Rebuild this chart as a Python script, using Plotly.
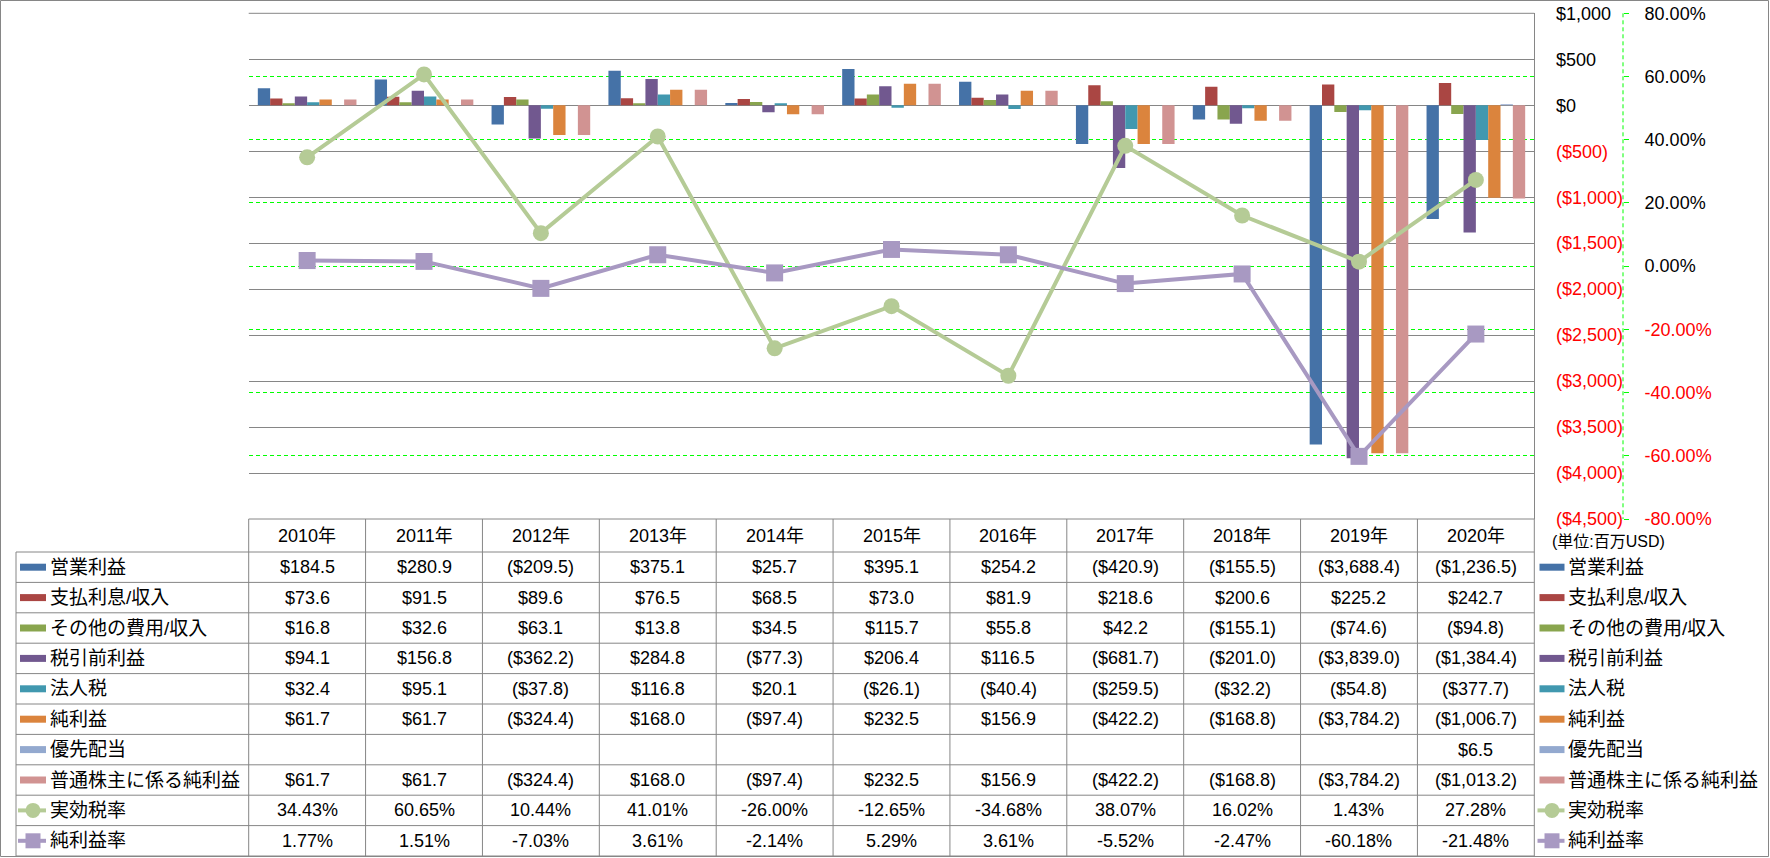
import plotly.graph_objects as go

# ---------------- data ----------------
years = ["2010年", "2011年", "2012年", "2013年", "2014年", "2015年",
         "2016年", "2017年", "2018年", "2019年", "2020年"]

op_income = [184.5, 280.9, -209.5, 375.1, 25.7, 395.1, 254.2, -420.9, -155.5, -3688.4, -1236.5]
interest = [73.6, 91.5, 89.6, 76.5, 68.5, 73.0, 81.9, 218.6, 200.6, 225.2, 242.7]
other = [16.8, 32.6, 63.1, 13.8, 34.5, 115.7, 55.8, 42.2, -155.1, -74.6, -94.8]
pretax = [94.1, 156.8, -362.2, 284.8, -77.3, 206.4, 116.5, -681.7, -201.0, -3839.0, -1384.4]
income_tax = [32.4, 95.1, -37.8, 116.8, 20.1, -26.1, -40.4, -259.5, -32.2, -54.8, -377.7]
net_income = [61.7, 61.7, -324.4, 168.0, -97.4, 232.5, 156.9, -422.2, -168.8, -3784.2, -1006.7]
pref_div = [None, None, None, None, None, None, None, None, None, None, 6.5]
common_net = [61.7, 61.7, -324.4, 168.0, -97.4, 232.5, 156.9, -422.2, -168.8, -3784.2, -1013.2]
eff_tax_rate = [34.43, 60.65, 10.44, 41.01, -26.00, -12.65, -34.68, 38.07, 16.02, 1.43, 27.28]
net_margin = [1.77, 1.51, -7.03, 3.61, -2.14, 5.29, 3.61, -5.52, -2.47, -60.18, -21.48]

bar_names = ["営業利益", "支払利息/収入", "その他の費用/収入", "税引前利益",
             "法人税", "純利益", "優先配当", "普通株主に係る純利益"]
bar_values = [op_income, interest, other, pretax, income_tax, net_income, pref_div, common_net]
line_names = ["実効税率", "純利益率"]
line_values = [eff_tax_rate, net_margin]

usd_ticks = list(range(-4500, 1001, 500))
pct_ticks = [-0.8, -0.6, -0.4, -0.2, 0.0, 0.2, 0.4, 0.6, 0.8]

# ---------------- styles ----------------
bar_colors = ["#4572A7", "#AA4643", "#89A54E", "#71588F", "#4198AF", "#DB843D", "#93A9CF", "#D19392"]
line_colors = ["#B5CB96", "#A899C2"]
line_symbols = ["circle", "square"]
GRID = "#868686"
LIME = "#00FF00"
FONT = "Liberation Sans, Noto Sans CJK JP, sans-serif"

W, H = 1770, 858
PLOT_L, PLOT_R = 248.7, 1534.3
PLOT_T, PLOT_B = 13.3, 519.0
SEC_X = 1623.0
HEADER_B = 552.0
ROW_H = 30.4
LABEL_L = 16.0


def px(x):
    return x / W


def py(y):
    return 1 - y / H


def fmt_usd(v):
    if v is None:
        return ""
    s = "${:,.1f}".format(abs(v))
    return "(" + s + ")" if v < 0 else s


def fmt_usd_tick(v):
    s = "${:,}".format(abs(v))
    return "<span style='color:#FF0000'>(" + s + ")</span>" if v < 0 else s


def fmt_pct_tick(v):
    s = "{:.2f}%".format(v * 100)
    return "<span style='color:#FF0000'>" + s + "</span>" if v < 0 else s


fig = go.Figure()

for name, vals, col in zip(bar_names, bar_values, bar_colors):
    fig.add_trace(go.Bar(x=years, y=vals, name=name, marker=dict(color=col, line=dict(width=0)),
                         yaxis="y", showlegend=False))

for name, vals, col, sym in zip(line_names, line_values, line_colors, line_symbols):
    fig.add_trace(go.Scatter(x=years, y=[v / 100 for v in vals], name=name, mode="lines+markers",
                             line=dict(color=col, width=4),
                             marker=dict(symbol=sym, size=16 if sym == "circle" else 17, color=col,
                                         line=dict(width=0)),
                             yaxis="y2", showlegend=False))

shapes = []
annotations = []

# table lines
line_style = dict(color=GRID, width=1)
n_rows = len(bar_names) + len(line_names)
table_bottom = HEADER_B + ROW_H * n_rows
# top border of the plot area (the $1,000 gridline)
shapes.append(dict(type="line", xref="paper", yref="paper", x0=px(PLOT_L), x1=px(PLOT_R),
                   y0=py(PLOT_T), y1=py(PLOT_T), line=line_style, layer="below"))
# top of header row
shapes.append(dict(type="line", xref="paper", yref="paper", x0=px(PLOT_L), x1=px(PLOT_R),
                   y0=py(PLOT_B), y1=py(PLOT_B), line=line_style))
for i in range(n_rows + 1):
    y = HEADER_B + ROW_H * i
    shapes.append(dict(type="line", xref="paper", yref="paper", x0=px(LABEL_L), x1=px(PLOT_R),
                       y0=py(y), y1=py(y), line=line_style))
# vertical boundaries
col_w = (PLOT_R - PLOT_L) / len(years)
for j in range(len(years) + 1):
    x = PLOT_L + col_w * j
    shapes.append(dict(type="line", xref="paper", yref="paper", x0=px(x), x1=px(x),
                       y0=py(PLOT_B), y1=py(table_bottom), line=line_style))
shapes.append(dict(type="line", xref="paper", yref="paper", x0=px(LABEL_L), x1=px(LABEL_L),
                   y0=py(HEADER_B), y1=py(table_bottom), line=line_style))
# secondary axis dashed line
shapes.append(dict(type="line", xref="paper", yref="paper", x0=px(SEC_X), x1=px(SEC_X),
                   y0=py(PLOT_T), y1=py(PLOT_B), line=dict(color=LIME, width=1, dash="4px,3px")))
# outer border
shapes.append(dict(type="rect", xref="paper", yref="paper", x0=px(0.5), x1=px(W - 1.5),
                   y0=py(0.5), y1=py(H - 1.5), line=dict(color=GRID, width=1)))

txt_font = dict(family=FONT, size=18, color="#000000")
lbl_font = dict(family=FONT, size=19, color="#000000")

# headers
for yr in years:
    annotations.append(dict(x=yr, xref="x", y=py((PLOT_B + HEADER_B) / 2), yref="paper",
                            text=yr, showarrow=False, xanchor="center", yanchor="middle", font=txt_font))


def add_swatch(cx0, cx1, yc, kind, col, sym=None):
    if kind == "bar":
        shapes.append(dict(type="rect", xref="paper", yref="paper", x0=px(cx0), x1=px(cx1),
                           y0=py(yc + 3.5), y1=py(yc - 3.5), fillcolor=col, line=dict(width=0)))
    else:
        shapes.append(dict(type="line", xref="paper", yref="paper", x0=px(cx0 - 2), x1=px(cx1),
                           y0=py(yc), y1=py(yc), line=dict(color=col, width=4)))
        c = (cx0 + cx1) / 2
        r = 7.5
        shapes.append(dict(type="circle" if sym == "circle" else "rect", xref="paper", yref="paper",
                           x0=px(c - r), x1=px(c + r), y0=py(yc + r), y1=py(yc - r),
                           fillcolor=col, line=dict(width=0)))


rows = []
for name, vals, col in zip(bar_names, bar_values, bar_colors):
    rows.append((name, [fmt_usd(v) for v in vals], "bar", col, None))
for name, vals, col, sym in zip(line_names, line_values, line_colors, line_symbols):
    rows.append((name, ["{:.2f}%".format(v) for v in vals], "line", col, sym))

for i, (name, texts, kind, col, sym) in enumerate(rows):
    yc = HEADER_B + ROW_H * (i + 0.5)
    for yr, t in zip(years, texts):
        if t:
            annotations.append(dict(x=yr, xref="x", y=py(yc), yref="paper", text=t, showarrow=False,
                                    xanchor="center", yanchor="middle", font=txt_font))
    # left label column
    add_swatch(20, 46, yc, kind, col, sym)
    annotations.append(dict(x=px(48), xref="paper", y=py(yc), yref="paper", text=name, showarrow=False,
                            xanchor="left", yanchor="middle", font=lbl_font))
    # right legend
    add_swatch(1539.5, 1564.5, yc, kind, col, sym)
    annotations.append(dict(x=px(1566), xref="paper", y=py(yc), yref="paper", text=name, showarrow=False,
                            xanchor="left", yanchor="middle", font=lbl_font))

annotations.append(dict(x=px(1550), xref="paper", y=py(541.7), yref="paper", text="(単位:百万USD)",
                        showarrow=False, xanchor="left", yanchor="middle",
                        font=dict(family=FONT, size=16, color="#000000")))

fig.update_layout(
    width=W, height=H, autosize=False,
    margin=dict(l=0, r=0, t=0, b=0, pad=0),
    paper_bgcolor="#FFFFFF", plot_bgcolor="#FFFFFF",
    font=dict(family=FONT, size=18, color="#000000"),
    barmode="group", bargap=0.156, bargroupgap=0,
    xaxis=dict(domain=[px(PLOT_L), px(PLOT_R)], type="category", range=[-0.5, 10.5],
               showticklabels=False, showgrid=False, zeroline=False, showline=False, ticks=""),
    yaxis=dict(domain=[py(PLOT_B), py(PLOT_T)], range=[-4500, 1000], side="right",
               tickvals=usd_ticks, ticktext=[fmt_usd_tick(v) for v in usd_ticks],
               showgrid=True, gridcolor=GRID, gridwidth=1, zeroline=False,
               showline=True, linecolor=GRID, linewidth=1, ticks="", ticklabelstandoff=17,
               tickfont=dict(family=FONT, size=18), automargin=False),
    yaxis2=dict(overlaying="y", anchor="free", position=px(SEC_X), side="right",
                range=[-0.8, 0.8], tickvals=pct_ticks, ticktext=[fmt_pct_tick(v) for v in pct_ticks],
                showgrid=True, gridcolor=LIME, gridwidth=1, griddash="4px,3px", zeroline=False,
                showline=False, ticks="outside", ticklen=5, tickcolor=LIME, tickwidth=1,
                ticklabelstandoff=12, tickfont=dict(family=FONT, size=18), automargin=False),
    shapes=shapes,
    annotations=annotations,
)

fig.write_html("out.html", config={"displayModeBar": False})
